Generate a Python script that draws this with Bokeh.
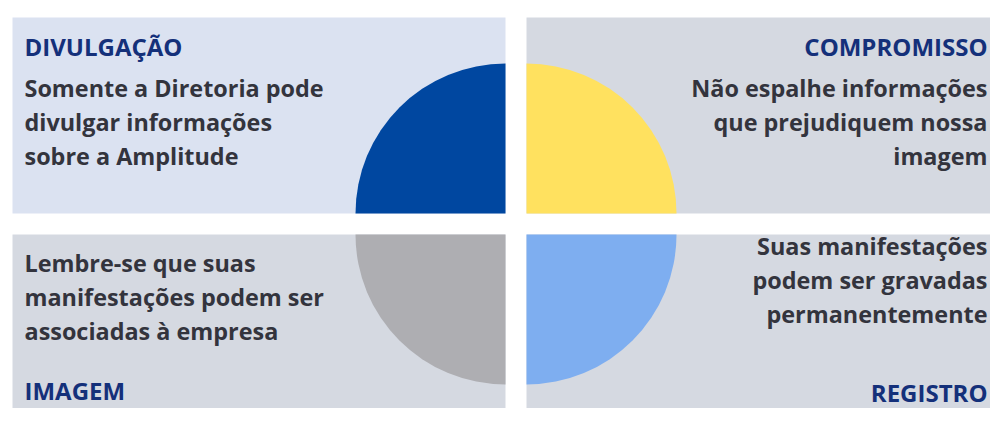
import numpy as np
from bokeh.plotting import figure
from bokeh.models import Range1d, ColumnDataSource
from bokeh.core.properties import value
from bokeh.embed import file_html
from bokeh.resources import INLINE

# ---- content ----
titles = ["DIVULGAÇÃO", "COMPROMISSO", "IMAGEM", "REGISTRO"]
bodies = [
    ["Somente a Diretoria pode", "divulgar informações", "sobre a Amplitude"],
    ["Não espalhe informações", "que prejudiquem nossa", "imagem"],
    ["Lembre-se que suas", "manifestações podem ser", "associadas à empresa"],
    ["Suas manifestações", "podem ser gravadas", "permanentemente"],
]
panel_colors = ["#dbe2f1", "#d5d9e1", "#d5d9e1", "#d5d9e1"]
wedge_colors = ["#0047a0", "#ffe15f", "#aeaeb2", "#7eaef0"]
title_color = "#14307a"
body_color = "#33343d"

# ---- layout: one data unit = one pixel (y measured downward from the top) ----
W, H = 990, 408

def fy(py):  # y from top -> data y (up)
    return H - py

p = figure(width=W, height=H, output_backend="svg", toolbar_location=None,
           x_range=Range1d(0, W), y_range=Range1d(0, H), min_border=0)
p.axis.visible = False
p.grid.visible = False
p.outline_line_color = None
p.background_fill_color = "white"
p.border_fill_color = "white"

# panels
xl = [(12, 505), (526, W + 4), (12, 505), (526, W + 4)]
yt = [(17, 213), (17, 213), (234, H + 4), (234, H + 4)]
p.quad(left=[a for a, b in xl], right=[b for a, b in xl],
       top=[fy(a) for a, b in yt], bottom=[fy(b) for a, b in yt],
       fill_color=panel_colors, line_color=None)

# quarter circles at the inner corners
R = 150
cx = [505, 526, 505, 526]
cy = [fy(213), fy(213), fy(234), fy(234)]
starts = [90, 0, 180, 270]
p.wedge(x=cx, y=cy, radius=R, start_angle=starts,
        end_angle=[s + 90 for s in starts], start_angle_units="deg",
        end_angle_units="deg", fill_color=wedge_colors, line_color=None)

FONT = value("Open Sans")
align = ["left", "right", "left", "right"]
tx = [24, 987, 24, 987]
OFF = 8.8  # the text box's bottom lies this far below the glyph baseline
title_base = [54.5, 54.5, 399, 400.5]
body_base = [96, 96, 271, 254]
LS = 34.3

p.text(x=tx, y=[fy(b - OFF) for b in title_base], text=titles, text_font=FONT,
       text_font_size="24px", text_font_style="bold", text_color=title_color,
       text_align=align, text_baseline="alphabetic")

bx, by, bt, ba = [], [], [], []
for i, lines in enumerate(bodies):
    for j, line in enumerate(lines):
        bx.append(tx[i]); by.append(fy(body_base[i] + j * LS - OFF))
        bt.append(line); ba.append(align[i])
src = ColumnDataSource(dict(x=bx, y=by, text=bt, align=ba))
p.text(x="x", y="y", text="text", text_align="align", source=src,
       text_font=FONT, text_font_size="23.4px", text_font_style="bold",
       text_color=body_color, text_baseline="alphabetic")

open("out.html", "w").write(file_html(p, INLINE))
